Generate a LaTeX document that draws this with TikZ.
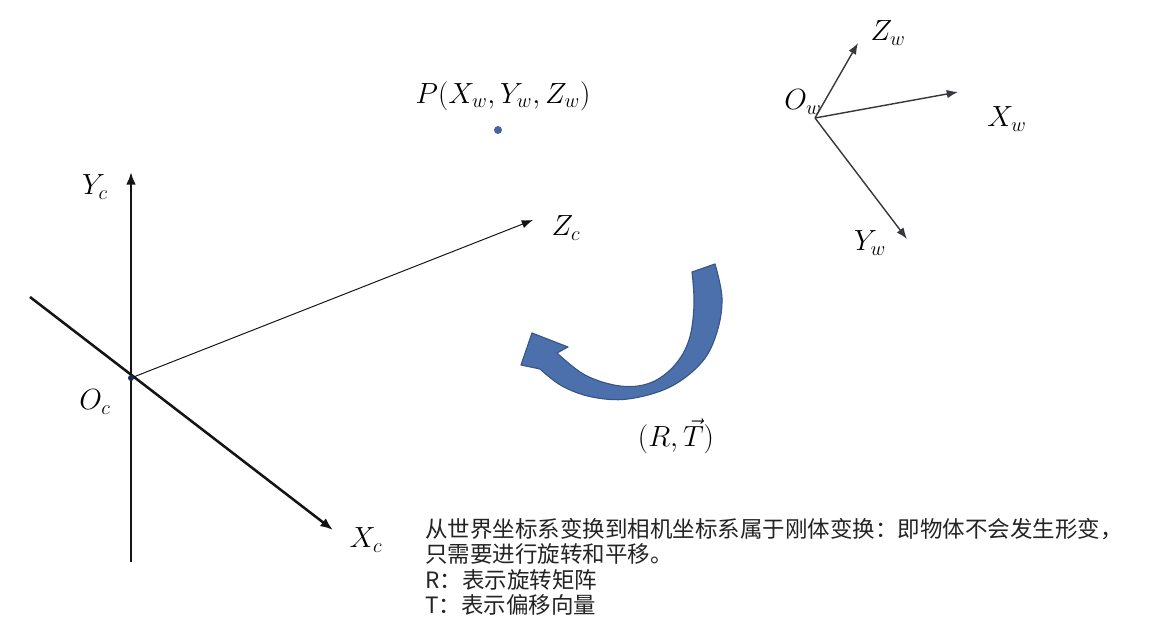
\documentclass[tikz,border=0pt]{standalone}
\usepackage{fontspec}
\newfontfamily\cjk{Noto Sans CJK SC}
\usepackage{tikz}
\usetikzlibrary{arrows.meta, positioning, calc}
\usepackage{amsmath}
\usepackage{xcolor}
\definecolor{axisblack}{RGB}{20,20,20}
\definecolor{axisgray}{RGB}{55,55,60}
\definecolor{dotblue}{RGB}{70,100,160}
\definecolor{dotnavy}{RGB}{25,40,70}
\definecolor{rotfill}{RGB}{76,112,172}
\definecolor{rotedge}{RGB}{55,85,135}
\definecolor{notegray}{RGB}{35,35,35}
\tikzset{
  % camera frame axes
  camaxis/.style={-{Latex[length=9pt,width=7pt]}, line width=1.8pt, color=axisblack},
  camray/.style={-{Latex[length=8pt,width=6pt]}, line width=0.7pt, color=axisblack},
  % world frame axes
  worldaxis/.style={-{Latex[length=8pt,width=6pt]}, line width=1pt, color=axisgray},
  % labels
  axislabel/.style={font=\fontsize{21}{25}\selectfont, inner sep=1pt},
  notetext/.style={font=\cjk\fontsize{16}{18}\selectfont, color=notegray,
    align=left, inner sep=0pt},
  rotarrow/.style={fill=rotfill, draw=rotedge, line width=0.8pt, line join=round}
}

\begin{document}
\begin{tikzpicture}[x=0.025cm, y=-0.025cm]
  \useasboundingbox (0,0) rectangle (1160,643);

  % Camera frame
  \coordinate (Oc) at (131,378);
  \coordinate (Ycbot) at (131,562);
  \coordinate (Yctop) at (131,172);
  \coordinate (Xcstart) at (30,297);
  \coordinate (Xcend) at (333,530);
  \coordinate (Zcend) at (533,220);

  \draw[camaxis] (Ycbot) -- (Yctop);
  \draw[camaxis] (Xcstart) -- (Xcend);
  \draw[camray] (Oc) -- (Zcend);
  \fill[dotnavy] (Oc) circle (3);

  \node[axislabel] (ycl) at (95,187) {$Y_c$};
  \node[axislabel] (ocl) at (95,402) {$O_c$};
  \node[axislabel] (xcl) at (366,540) {$X_c$};
  \node[axislabel] (zcl) at (566,228) {$Z_c$};

  % Point P
  \coordinate (P) at (498,130);
  \fill[dotblue] (P) circle (4);
  \node[axislabel] (pl) at (503,96) {$P(X_w,Y_w,Z_w)$};

  % World frame
  \coordinate (Ow) at (815,118);
  \coordinate (Zwend) at (858,43);
  \coordinate (Xwend) at (958,92);
  \coordinate (Ywend) at (907,239);

  \draw[worldaxis] (Ow) -- (Zwend);
  \draw[worldaxis] (Ow) -- (Xwend);
  \draw[worldaxis] (Ow) -- (Ywend);

  \node[axislabel] (owl) at (803,102) {$O_w$};
  \node[axislabel] (zwl) at (888,33) {$Z_w$};
  \node[axislabel] (xwl) at (1007,119) {$X_w$};
  \node[axislabel] (ywl) at (870,243) {$Y_w$};

  % Rotation / translation arrow
  \draw[rotarrow] plot[smooth, tension=0.6] coordinates {(715,264) (722,298) (717,332) (702,362) (670,387) (628,399) (592,397) (562,386) (540,369)}
    -- (521,365) -- (532,333) -- (568,347) -- (557,353)
    -- plot[smooth, tension=0.6] coordinates {(557,353) (585,375) (620,386) (650,383) (674,366) (689,340) (694,305) (692,272)}
    -- cycle;
  \node[axislabel] (rtl) at (676,436) {$(R,\vec{T})$};

  % Note
  \node[notetext, anchor=north west] (note) at (425,518)
    {从世界坐标系变换到相机坐标系属于刚体变换：即物体不会发生形变，\\
     只需要进行旋转和平移。\\
     R：表示旋转矩阵\\
     T：表示偏移向量};
\end{tikzpicture}
\end{document}
